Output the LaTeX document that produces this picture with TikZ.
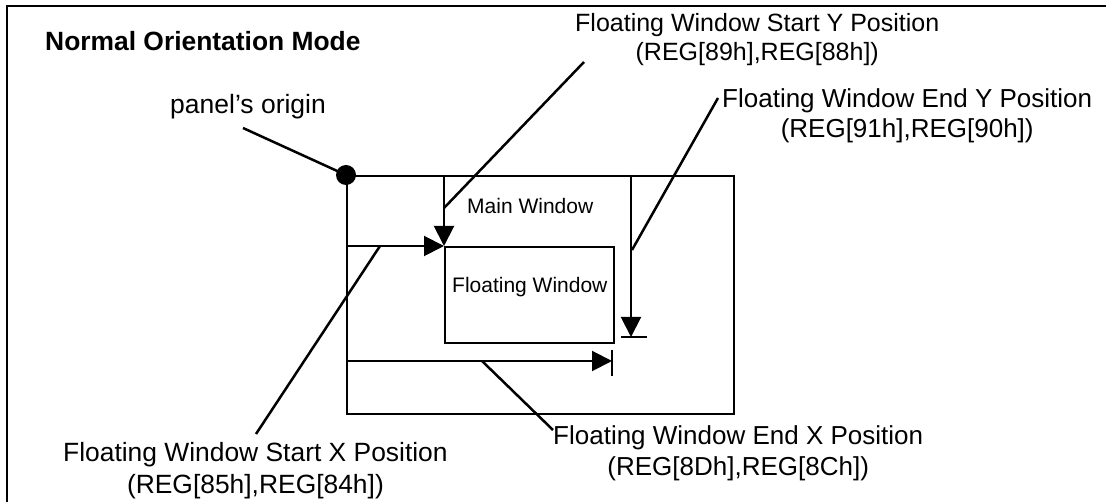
\documentclass[tikz,border=0pt]{standalone}
\usepackage{fontspec}
\setmainfont{Liberation Sans}
\usetikzlibrary{arrows.meta}
\tikzset{
  lbl/.style={inner sep=0pt, anchor=north west, align=center},
  small/.style={inner sep=0pt, anchor=north west, font=\fontsize{21}{26}\selectfont},
  win/.style={draw, line width=2pt, inner sep=0pt, anchor=north west},
  arr/.style={line width=2pt, -{Triangle[length=20pt,width=20pt]}},
  bar/.style={line width=2pt},
  leader/.style={line width=2.5pt},
  frame/.style={line width=2pt}
}
\begin{document}
\begin{tikzpicture}[x=1pt,y=-1pt]
\useasboundingbox (0,0) rectangle (1106,502);
% outer frame (top and left only)
\draw[frame] (1106,6) -- (7,6) -- (7,502);
% title
\node[inner sep=0pt, anchor=north west, font=\fontsize{26.4}{30}\selectfont\bfseries] (title) at (45,31) {Normal Orientation Mode};
% windows
\node[win, minimum width=387pt, minimum height=238pt] (main) at (346,175) {};
\node[win, minimum width=169pt, minimum height=96pt] (float) at (444,246) {};
\node[small] (mainlbl) at (467,198) {Main Window};
\node[small] (floatlbl) at (452,277) {Floating Window};
% origin
\fill (main.north west) circle (10pt);
\node[lbl, font=\fontsize{26.5}{31}\selectfont] (origin) at (170,94) {panel’s origin};
\coordinate (oleader) at (243,128);
\draw[leader] (oleader) -- (main.north west);
% start Y
\draw[arr] (main.north west -| float.north west) -- (float.north west);
\node[lbl, font=\fontsize{25}{29}\selectfont] (sylbl) at (575,13) {Floating Window Start Y Position\\(REG[89h],REG[88h])};
\coordinate (syA) at (584,62);
\coordinate (syB) at (444,208);
\draw[leader] (syA) -- (syB);
% start X
\draw[arr] (main.north west |- float.north west) -- (float.north west);
\node[lbl, font=\fontsize{26.4}{32}\selectfont] (sxlbl) at (63,442) {Floating Window Start X Position\\(REG[85h],REG[84h])};
\coordinate (sxA) at (380,246);
\coordinate (sxB) at (256,434);
\draw[leader] (sxA) -- (sxB);
% end Y
\coordinate (eyTop) at (631,175);
\coordinate (eyEnd) at (631,337);
\draw[arr] (eyTop) -- (eyEnd);
\coordinate (eyBarL) at (621,337);
\coordinate (eyBarR) at (647,337);
\draw[bar] (eyBarL) -- (eyBarR);
\node[lbl, font=\fontsize{26}{30}\selectfont] (eylbl) at (722,88) {Floating Window End Y Position\\(REG[91h],REG[90h])};
\coordinate (eyA) at (632,250);
\coordinate (eyB) at (718,98);
\draw[leader] (eyA) -- (eyB);
% end X
\coordinate (exStart) at (346,361);
\coordinate (exEnd) at (612,361);
\draw[arr] (exStart) -- (exEnd);
\coordinate (exBarT) at (612,350);
\coordinate (exBarB) at (612,376);
\draw[bar] (exBarT) -- (exBarB);
\node[lbl, font=\fontsize{26}{31}\selectfont] (exlbl) at (553,425) {Floating Window End X Position\\(REG[8Dh],REG[8Ch])};
\coordinate (exA) at (482,361);
\coordinate (exB) at (553,430);
\draw[leader] (exA) -- (exB);
\end{tikzpicture}
\end{document}
